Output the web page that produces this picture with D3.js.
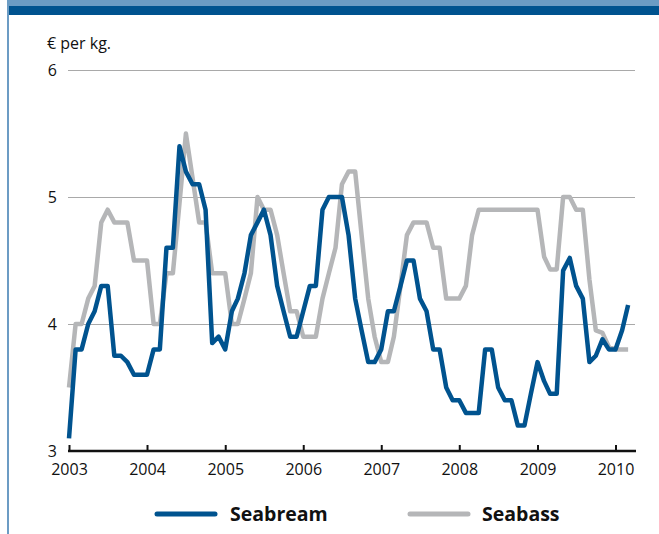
<!DOCTYPE html>
<html>
<head>
<meta charset="utf-8">
<script src="https://cdn.jsdelivr.net/npm/d3@7"></script>
<style>
  html, body { margin: 0; padding: 0; background: #fff; }
  svg { display: block; font-family: "Open Sans", "Noto Sans", sans-serif; }
</style>
</head>
<body>
<svg id="chart" width="659" height="534"></svg>
<script>
// ---- data (monthly, Jan 2003 – Mar 2010) ----
const startYear = 2003;
const yearTicks = [2003, 2004, 2005, 2006, 2007, 2008, 2009, 2010];
const yTicks = [3, 4, 5, 6];
const gridValues = [4, 5, 6];
const seriesNames = ["Seabream", "Seabass"];
const seabream = [
  3.1, 3.8, 3.8, 4.0, 4.1, 4.3, 4.3, 3.75, 3.75, 3.7, 3.6, 3.6,
  3.6, 3.8, 3.8, 4.6, 4.6, 5.4, 5.2, 5.1, 5.1, 4.9, 3.85, 3.9,
  3.8, 4.1, 4.2, 4.4, 4.7, 4.8, 4.9, 4.7, 4.3, 4.1, 3.9, 3.9,
  4.1, 4.3, 4.3, 4.9, 5.0, 5.0, 5.0, 4.7, 4.2, 3.95, 3.7, 3.7,
  3.8, 4.1, 4.1, 4.3, 4.5, 4.5, 4.2, 4.1, 3.8, 3.8, 3.5, 3.4,
  3.4, 3.3, 3.3, 3.3, 3.8, 3.8, 3.5, 3.4, 3.4, 3.2, 3.2, 3.45,
  3.7, 3.55, 3.45, 3.45, 4.42, 4.52, 4.3, 4.2, 3.7, 3.75, 3.88, 3.8,
  3.8, 3.95, 4.15
];
const seabass = [
  3.5, 4.0, 4.0, 4.2, 4.3, 4.8, 4.9, 4.8, 4.8, 4.8, 4.5, 4.5,
  4.5, 4.0, 4.0, 4.4, 4.4, 4.95, 5.5, 5.15, 4.8, 4.8, 4.4, 4.4,
  4.4, 4.0, 4.0, 4.2, 4.4, 5.0, 4.9, 4.9, 4.7, 4.4, 4.1, 4.1,
  3.9, 3.9, 3.9, 4.2, 4.4, 4.6, 5.1, 5.2, 5.2, 4.7, 4.2, 3.9,
  3.7, 3.7, 3.9, 4.3, 4.7, 4.8, 4.8, 4.8, 4.6, 4.6, 4.2, 4.2,
  4.2, 4.3, 4.7, 4.9, 4.9, 4.9, 4.9, 4.9, 4.9, 4.9, 4.9, 4.9,
  4.9, 4.53, 4.43, 4.43, 5.0, 5.0, 4.9, 4.9, 4.35, 3.95, 3.93, 3.82,
  3.8, 3.8, 3.8
];

const dateOf = i => new Date(startYear + Math.floor(i / 12), i % 12, 1);

// ---- styles ----
const BLUE = "#00538f";
const GRAY = "#b5b6b8";
const LIGHTBLUE = "#6c9cc4";

const svg = d3.select("#chart");

// frame decorations
svg.append("rect").attr("x", 7).attr("y", 0).attr("width", 652).attr("height", 6).attr("fill", LIGHTBLUE);
svg.append("rect").attr("x", 9).attr("y", 6).attr("width", 650).attr("height", 9).attr("fill", BLUE);
svg.append("rect").attr("x", 7).attr("y", 0).attr("width", 2).attr("height", 534).attr("fill", LIGHTBLUE);

const x = d3.scaleTime()
  .domain([new Date(2003, 0, 1), new Date(2010, 0, 1)])
  .range([69, 615.5]);
const y = d3.scaleLinear().domain([3, 6]).range([451, 70]);

// gridlines
svg.append("g").selectAll("line").data(gridValues).join("line")
  .attr("x1", 68).attr("x2", 635)
  .attr("y1", d => y(d)).attr("y2", d => y(d))
  .attr("stroke", "#a9a9a9").attr("stroke-width", 1)
  .attr("shape-rendering", "crispEdges");

// y axis labels
const yAxis = svg.append("g").attr("transform", "translate(68,0)")
  .call(d3.axisLeft(y).tickValues(yTicks).tickSize(0).tickPadding(11).tickFormat(d3.format("d")));
yAxis.select(".domain").remove();
yAxis.selectAll("text").attr("font-size", 16).attr("fill", "#111")
  .attr("font-family", "'Open Sans', sans-serif");

// unit label
svg.append("text").attr("x", 47).attr("y", 49).text("€ per kg.")
  .attr("font-size", 16).attr("fill", "#111");

// lines
const line = d3.line().x((d, i) => x(dateOf(i))).y(d => y(d));
svg.append("path").datum(seabass).attr("d", line)
  .attr("fill", "none").attr("stroke", GRAY).attr("stroke-width", 4.5)
  .attr("stroke-linejoin", "round");
svg.append("path").datum(seabream).attr("d", line)
  .attr("fill", "none").attr("stroke", BLUE).attr("stroke-width", 4.5)
  .attr("stroke-linejoin", "round");

// x axis
const xAxis = svg.append("g").attr("transform", "translate(0,451)")
  .call(d3.axisBottom(x)
    .tickValues(yearTicks.map(yr => new Date(yr, 0, 1)))
    .tickSizeInner(-6).tickSizeOuter(0).tickPadding(13)
    .tickFormat(d3.timeFormat("%Y")));
xAxis.select(".domain").remove();
xAxis.selectAll(".tick line").attr("stroke", "#111").attr("stroke-width", 2);
xAxis.selectAll("text").attr("font-size", 16).attr("fill", "#111")
  .attr("font-family", "'Open Sans', sans-serif");
svg.append("line").attr("x1", 68).attr("x2", 636).attr("y1", 451).attr("y2", 451)
  .attr("stroke", "#111").attr("stroke-width", 2.5);

// legend
const legend = [
  { name: seriesNames[0], color: BLUE, x0: 157, tx: 230 },
  { name: seriesNames[1], color: GRAY, x0: 410, tx: 482 }
];
const lg = svg.append("g");
legend.forEach(l => {
  lg.append("line").attr("x1", l.x0).attr("x2", l.x0 + 58).attr("y1", 514).attr("y2", 514)
    .attr("stroke", l.color).attr("stroke-width", 5).attr("stroke-linecap", "round");
  lg.append("text").attr("x", l.tx).attr("y", 521).text(l.name)
    .attr("font-size", 19.5).attr("font-weight", "bold").attr("fill", "#111");
});
</script>
</body>
</html>
